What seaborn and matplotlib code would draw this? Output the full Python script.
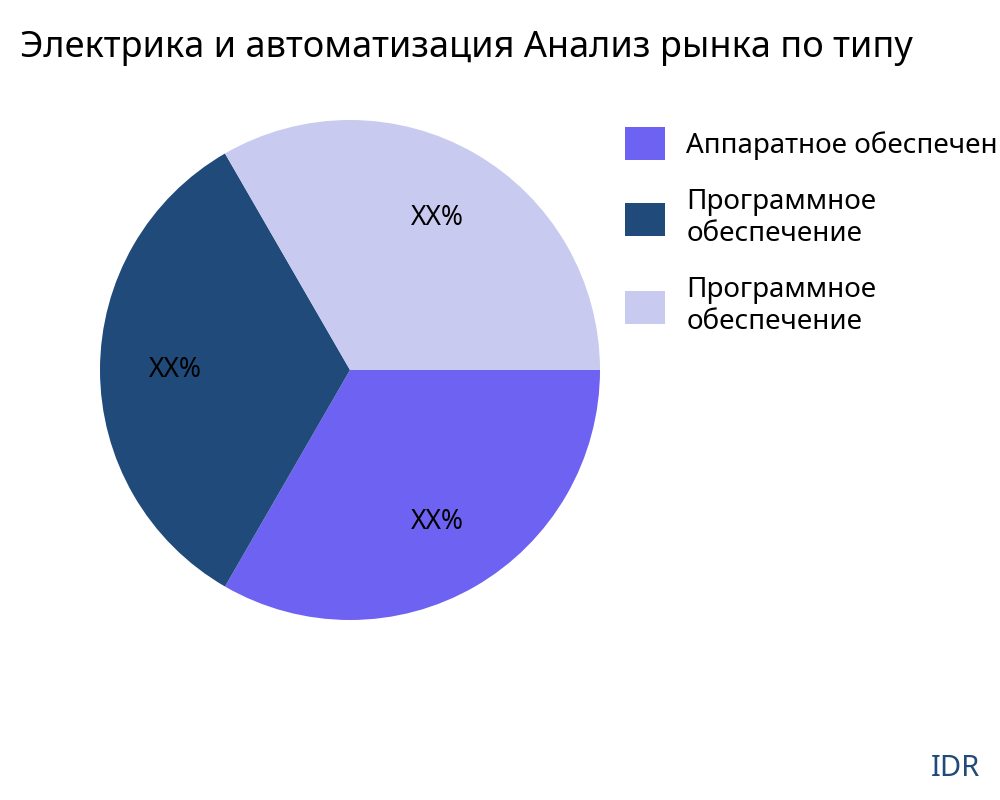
import matplotlib
matplotlib.use("Agg")
import matplotlib.pyplot as plt
import seaborn as sns
from matplotlib.patches import Patch

sns.set_theme(style="white")
plt.rcParams['font.family'] = ['Noto Sans', 'DejaVu Sans']

title = "Электрика и автоматизация Анализ рынка по типу"
categories = ["Аппаратное обеспечение", "Программное\nобеспечение", "Программное\nобеспечение"]
shares = [1, 1, 1]
pct_labels = ["XX%", "XX%", "XX%"]
colors = ["#6E62F2", "#1F4A7A", "#C9CAF0"]

fig = plt.figure(figsize=(10, 8), dpi=100)
ax = fig.add_axes([0.1, 0.225, 0.5, 0.625])

wedges, texts, autotexts = ax.pie(
    shares, colors=colors, startangle=0, counterclock=False,
    autopct="%1.0f%%", pctdistance=0.7,
    wedgeprops={"linewidth": 0},
    textprops={"fontsize": 19, "color": "black"},
)
for t, lab in zip(autotexts, pct_labels):
    t.set_text(lab)
ax.set_xlim(-1, 1)
ax.set_ylim(-1, 1)
ax.set_aspect("equal")

fig.text(0.02, 0.94, title, fontsize=26, color="black", ha="left", va="center")

handles = [Patch(facecolor=c, edgecolor="none") for c in colors]
fig.legend(handles, categories, loc="upper left", bbox_to_anchor=(0.614, 0.855),
           frameon=False, fontsize=20, handlelength=1.45, handleheight=1.45,
           labelspacing=1.0, handletextpad=0.75, borderaxespad=0,
           labelcolor="black")

fig.text(0.98, 0.04, "IDR", fontsize=21, color="#1F4A7A", ha="right", va="center")

fig.savefig("out.png", dpi=100)
